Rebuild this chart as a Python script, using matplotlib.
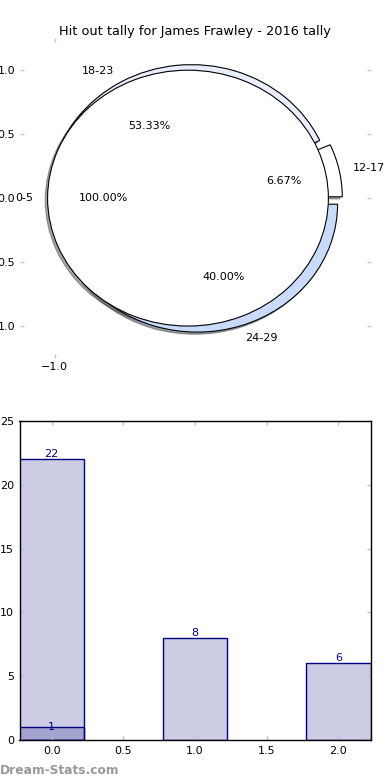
import matplotlib
matplotlib.use("Agg")
import matplotlib.pyplot as plt

# Data
title = "Hit out tally for James Frawley - 2016 tally"
outer_labels = ["12-17", "18-23", "24-29"]
outer_counts = [1, 8, 6]
outer_colors = ["#ffffff", "#e8eefc", "#c8dbfb"]
inner_labels = ["0-5"]
inner_counts = [22]
inner_colors = ["#ffffff"]

bar_x = [0, 1, 2]
bar_values = [22, 8, 6]
overlay_x = [0]
overlay_values = [1]

plt.rcParams['font.family'] = ['DejaVu Sans']
fig = plt.figure(figsize=(3.9, 7.8), dpi=100)

# ---- Pie ----
ax1 = fig.add_axes([0.05, 0.541, 0.9, 0.41])
wp = dict(edgecolor="black", linewidth=0.8)
shadow = dict(ox=-0.012, oy=-0.012)
ax1.pie(outer_counts, labels=outer_labels, colors=outer_colors,
        explode=[0.05] * len(outer_counts), autopct="%1.2f%%",
        shadow=shadow, startangle=0, wedgeprops=wp,
        textprops=dict(fontsize=8))
ax1.pie(inner_counts, labels=inner_labels, colors=inner_colors,
        explode=[0.05] * len(inner_counts), autopct="%1.2f%%",
        shadow=shadow, startangle=0, wedgeprops=wp,
        textprops=dict(fontsize=8))
ax1.set_aspect("auto")
ax1.set_xlim(-1.25, 1.25)
ax1.set_ylim(-1.25, 1.25)
ax1.set_frame_on(False)
ax1.set_xticks([-1.0])
ax1.set_xticklabels(["\u22121.0"])
ax1.set_yticks([1.0, 0.5, 0.0, -0.5, -1.0])
ax1.set_yticklabels(["1.0", "0.5", "0.0", "0.5", "1.0"])
ax1.tick_params(axis="both", direction="in", length=3, width=1,
                color="#c8c8c8", labelsize=8, top=True, bottom=True,
                left=True, right=True, pad=3)
ax1.set_title(title, fontsize=9.3, pad=2.5)

# ---- Bars ----
ax2 = fig.add_axes([0.05, 0.0513, 0.9, 0.409])
ax2.bar(bar_x, bar_values, width=0.45, color="navy", alpha=0.2,
        edgecolor="none")
ax2.bar(bar_x, bar_values, width=0.45, fill=False, edgecolor="navy",
        linewidth=1)
ax2.bar(overlay_x, overlay_values, width=0.45, color="navy", alpha=0.2,
        edgecolor="none")
ax2.bar(overlay_x, overlay_values, width=0.45, fill=False,
        edgecolor="navy", linewidth=1)
for x, v in zip(bar_x, bar_values):
    ax2.text(x, v, str(v), ha="center", va="bottom", color="navy",
             fontsize=8)
for x, v in zip(overlay_x, overlay_values):
    ax2.text(x, v, str(v), ha="center", va="center", color="navy",
             fontsize=8)
ax2.set_xlim(-0.225, 2.225)
ax2.set_ylim(0, 25)
ax2.set_xticks([0.0, 0.5, 1.0, 1.5, 2.0])
ax2.set_xticklabels(["0.0", "0.5", "1.0", "1.5", "2.0"])
ax2.set_yticks([0, 5, 10, 15, 20, 25])
ax2.tick_params(axis="both", direction="in", length=3, width=1,
                color="#c0c0c0", labelsize=8, top=True, right=True, pad=4)
for s in ax2.spines.values():
    s.set_color("black")
    s.set_linewidth(1)

fig.text(0.0, 0.004, "Dream-Stats.com", color="#999999", fontsize=8.8,
         fontweight="semibold", ha="left", va="bottom")

fig.savefig("out.png", dpi=100)
